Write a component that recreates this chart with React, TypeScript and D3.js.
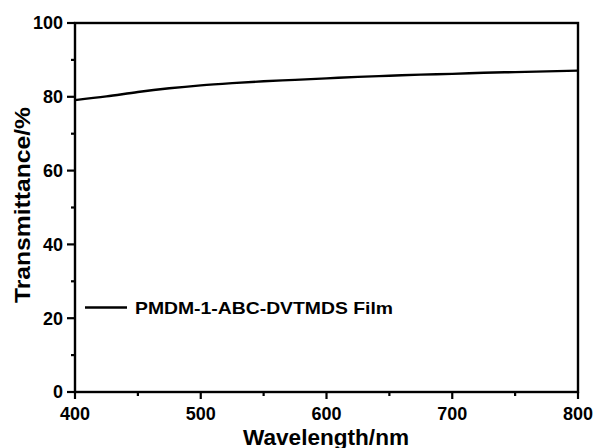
import React from "react";
import * as d3 from "d3";

const wavelengths = [400, 425, 450, 475, 500, 525, 550, 575, 600, 625, 650, 675, 700, 725, 750, 775, 800];
const transmittance = [79.1, 80.1, 81.3, 82.3, 83.1, 83.7, 84.2, 84.6, 85.0, 85.4, 85.7, 86.0, 86.2, 86.5, 86.7, 86.9, 87.1];
const xTicks = [400, 500, 600, 700, 800];
const xMinor = [450, 550, 650, 750];
const yTicks = [0, 20, 40, 60, 80, 100];
const yMinor = [10, 30, 50, 70, 90];
const seriesName = "PMDM-1-ABC-DVTMDS Film";

const W = 595, H = 448;
const m = { left: 75, right: 578, top: 23, bottom: 392 };
const font = "Arial, 'Liberation Sans', sans-serif";

export default function App() {
  const x = d3.scaleLinear().domain([400, 800]).range([m.left, m.right]);
  const y = d3.scaleLinear().domain([0, 100]).range([m.bottom, m.top]);
  const line = d3
    .line<number>()
    .x((_, i) => x(wavelengths[i]))
    .y((d) => y(d))
    .curve(d3.curveMonotoneX);
  return (
    <svg width={W} height={H} style={{ position: "absolute", left: 0, top: 0, background: "#fff" }} fontFamily={font}>
      <rect x={0} y={0} width={W} height={H} fill="#fff" />
      <path d={line(transmittance) || ""} fill="none" stroke="#000" strokeWidth={2.4} />
      <rect x={m.left} y={m.top} width={m.right - m.left} height={m.bottom - m.top} fill="none" stroke="#000" strokeWidth={2.4} />
      {yTicks.map((t) => (
        <g key={"y" + t}>
          <line x1={m.left - 8} x2={m.left} y1={y(t)} y2={y(t)} stroke="#000" strokeWidth={2.2} />
          <text x={m.left - 12} y={y(t)} dy="0.36em" textAnchor="end" fontSize={18} fontWeight="bold">{t}</text>
        </g>
      ))}
      {yMinor.map((t) => (
        <line key={"ym" + t} x1={m.left - 4} x2={m.left} y1={y(t)} y2={y(t)} stroke="#000" strokeWidth={2.2} />
      ))}
      {xTicks.map((t) => (
        <g key={"x" + t}>
          <line x1={x(t)} x2={x(t)} y1={m.bottom} y2={m.bottom + 7} stroke="#000" strokeWidth={2.2} />
          <text x={x(t)} y={419.5} textAnchor="middle" fontSize={18} fontWeight="bold">{t}</text>
        </g>
      ))}
      {xMinor.map((t) => (
        <line key={"xm" + t} x1={x(t)} x2={x(t)} y1={m.bottom} y2={m.bottom + 4} stroke="#000" strokeWidth={2.2} />
      ))}
      <text x={326} y={444.5} textAnchor="middle" fontSize={22} fontWeight="bold" textLength={166} lengthAdjust="spacingAndGlyphs">Wavelength/nm</text>
      <text transform={`translate(30,205) rotate(-90)`} textAnchor="middle" fontSize={22} fontWeight="bold" textLength={196} lengthAdjust="spacingAndGlyphs">Transmittance/%</text>
      <line x1={85} x2={127} y1={307.5} y2={307.5} stroke="#000" strokeWidth={2.5} />
      <text x={135} y={313.5} fontSize={17} fontWeight="bold" textLength={258} lengthAdjust="spacingAndGlyphs">{seriesName}</text>
    </svg>
  );
}
